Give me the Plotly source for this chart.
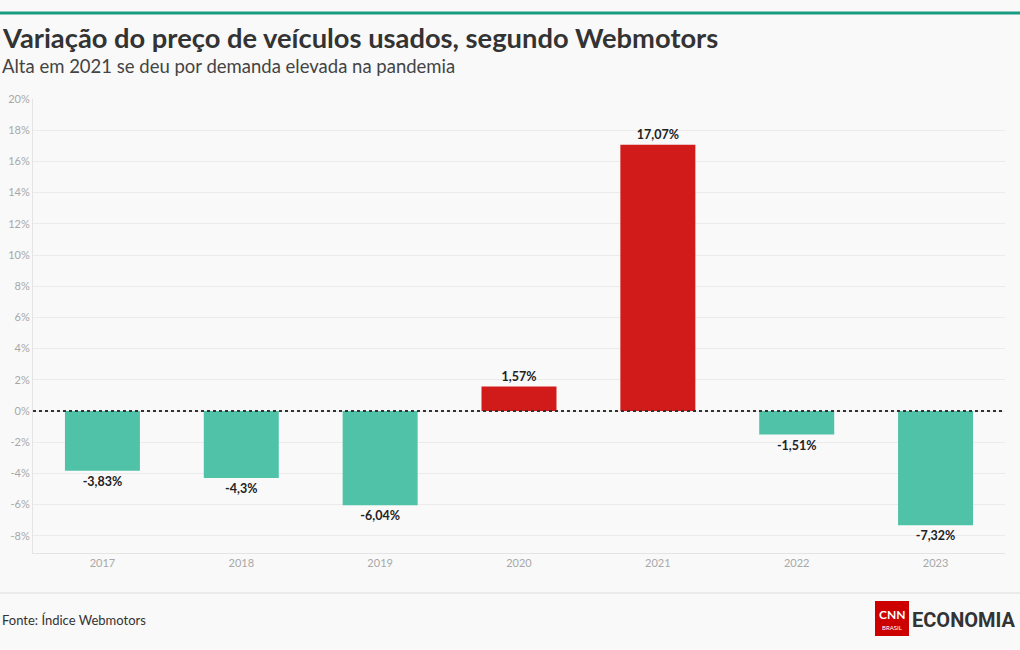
import plotly.graph_objects as go

anos = ['2017', '2018', '2019', '2020', '2021', '2022', '2023']
variacao = [-3.83, -4.3, -6.04, 1.57, 17.07, -1.51, -7.32]
rotulos = ['-3,83%', '-4,3%', '-6,04%', '1,57%', '17,07%', '-1,51%', '-7,32%']
ticks_y = [-8, -6, -4, -2, 0, 2, 4, 6, 8, 10, 12, 14, 16, 18, 20]

cores = ['#d11a1a' if v > 0 else '#4fc2a7' for v in variacao]
fonte = 'Lato'

# area do grafico em pixels
L, R, T, B = 33, 15, 99, 97
W, H = 1020 - L - R, 650 - T - B


def px(x):
    return (x - L) / W


def py(y):
    return (650 - B - y) / H


fig = go.Figure()
fig.add_trace(
    go.Bar(
        x=anos
        , y=variacao
        , marker=dict(color=cores, line=dict(width=0))
        , text=['<b>%s</b>' % r for r in rotulos]
        , textposition='outside'
        , textfont=dict(size=12.5, color='#222222', family=fonte)
        , cliponaxis=False
        , hoverinfo='skip'
        )
    )

fig.update_layout(
    width=1020
    , height=650
    , margin=dict(l=L, r=R, t=T, b=B)
    , paper_bgcolor='#f9f9f9'
    , plot_bgcolor='#f9f9f9'
    , bargap=0.46
    , showlegend=False
    , font=dict(family=fonte, color='#333333')
    , xaxis=dict(
        showgrid=False
        , showline=True
        , linecolor='#e4e4e4'
        , tickfont=dict(size=11, color='#a8a8a8')
        , ticks=''
        , automargin=False
        , fixedrange=True
        )
    , yaxis=dict(
        range=[-9.1, 20]
        , tickvals=ticks_y
        , ticktext=['%d%%' % t for t in ticks_y]
        , gridcolor='#ebebeb'
        , showline=True
        , linecolor='#e4e4e4'
        , zeroline=False
        , tickfont=dict(size=11, color='#a8a8a8')
        , automargin=False
        , fixedrange=True
        )
    )

# linha do zero pontilhada
fig.add_hline(y=0, line=dict(color='#333333', width=2, dash='dot'))

# barra superior
fig.add_shape(type='line', xref='paper', yref='paper', x0=px(0), x1=px(1020),
              y0=py(13), y1=py(13), line=dict(color='#1a9c82', width=3))
# linha do rodape
fig.add_shape(type='line', xref='paper', yref='paper', x0=px(0), x1=px(1020),
              y0=py(593), y1=py(593), line=dict(color='#dddddd', width=1))

fig.add_annotation(
    text='<b>Variação do preço de veículos usados, segundo Webmotors</b>'
    , xref='paper', yref='paper', x=px(0), y=py(38)
    , xanchor='left', yanchor='middle', showarrow=False
    , font=dict(size=27.3, color='#333333', family=fonte)
    )
fig.add_annotation(
    text='Alta em 2021 se deu por demanda elevada na pandemia'
    , xref='paper', yref='paper', x=px(0), y=py(66)
    , xanchor='left', yanchor='middle', showarrow=False
    , font=dict(size=18.5, color='#444444', family=fonte)
    )
fig.add_annotation(
    text='Fonte: Índice Webmotors'
    , xref='paper', yref='paper', x=px(0), y=py(620)
    , xanchor='left', yanchor='middle', showarrow=False
    , font=dict(size=13, color='#333333', family=fonte)
    )

# logo CNN Economia
fig.add_shape(type='rect', xref='paper', yref='paper',
              x0=px(875), x1=px(909), y0=py(636), y1=py(601),
              fillcolor='#cc0000', line=dict(width=0))
fig.add_annotation(
    text='<b>CNN</b>'
    , xref='paper', yref='paper', x=px(892), y=py(614)
    , xanchor='center', yanchor='middle', showarrow=False
    , font=dict(size=12, color='#ffffff', family=fonte)
    )
fig.add_annotation(
    text='BRASIL'
    , xref='paper', yref='paper', x=px(892), y=py(627)
    , xanchor='center', yanchor='middle', showarrow=False
    , font=dict(size=6, color='#ffffff', family=fonte)
    )
fig.add_annotation(
    text='<b>ECONOMIA</b>'
    , xref='paper', yref='paper', x=px(1018), y=py(620)
    , xanchor='right', yanchor='middle', showarrow=False
    , font=dict(size=20, color='#333333', family='Roboto')
    )

fig.write_html('out.html', config={'displayModeBar': False},
               post_script="document.body.style.margin='0';")
